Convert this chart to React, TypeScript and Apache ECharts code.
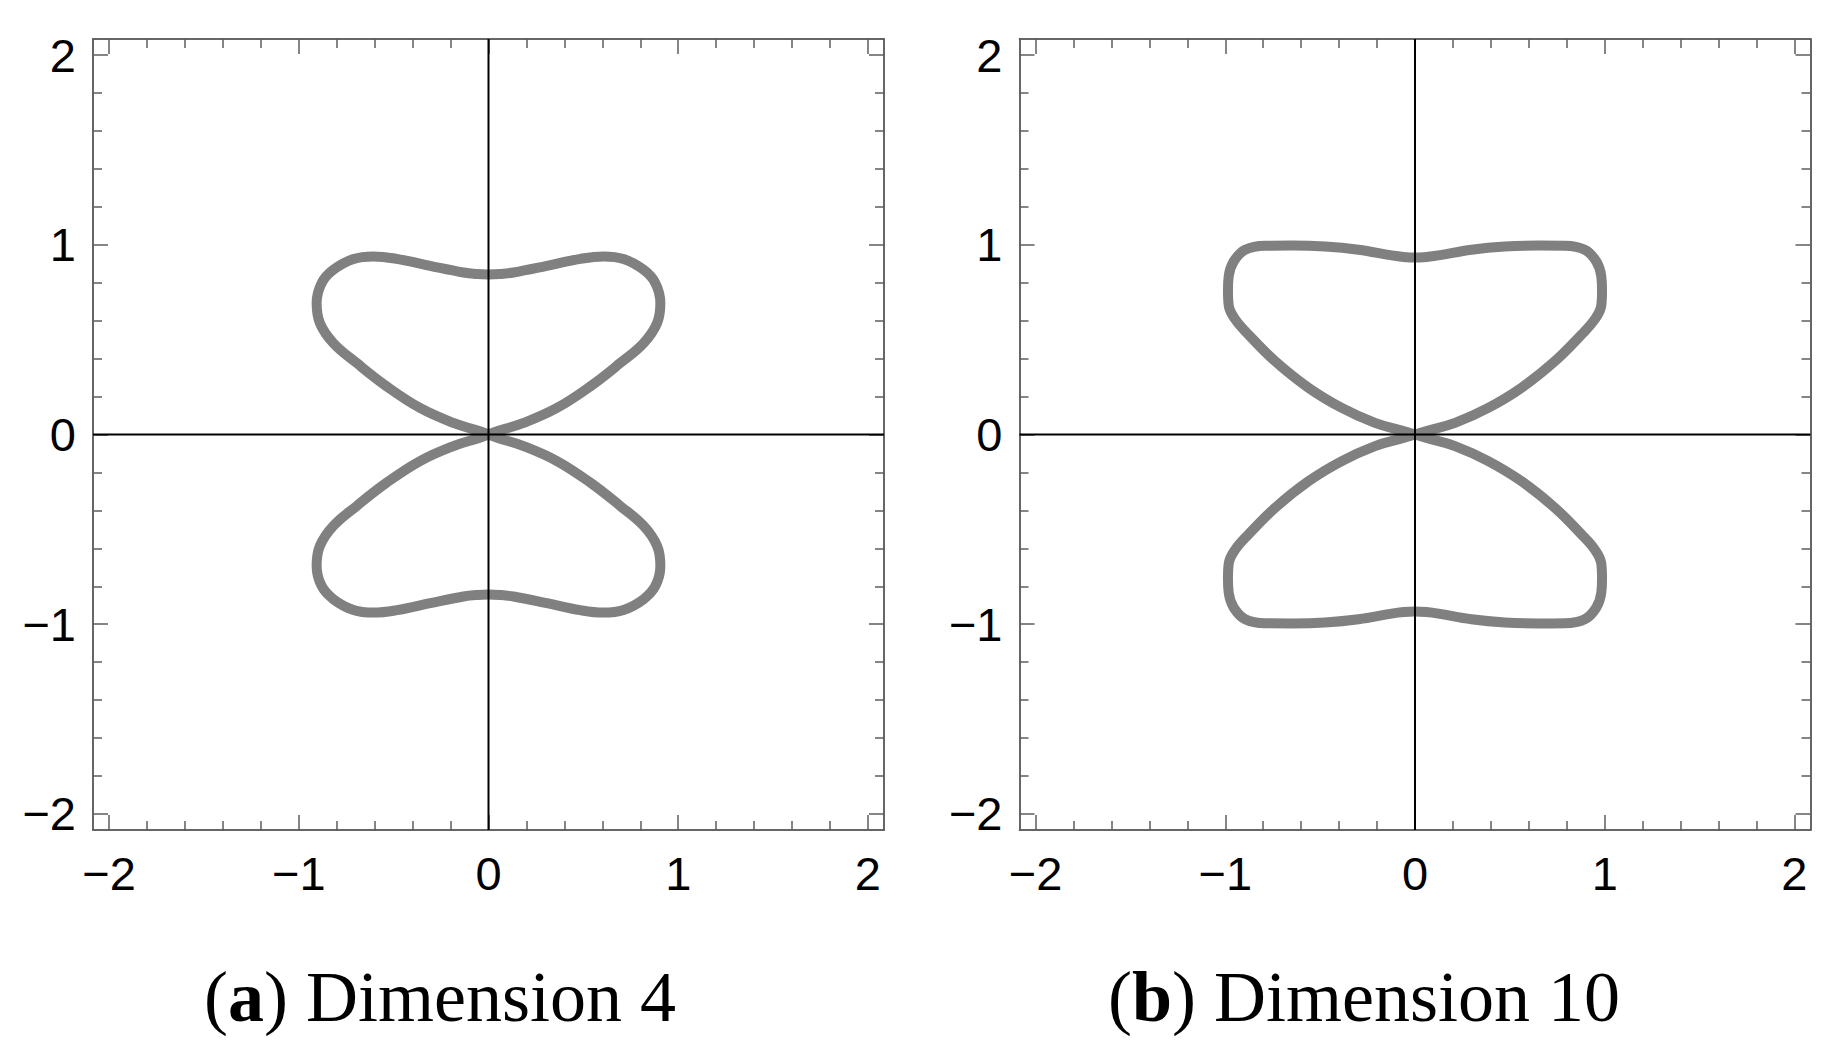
import React, { useEffect, useRef } from "react";
import * as echarts from "echarts";

// Axis range and ticks
const AXIS_MIN = -2.085;
const AXIS_MAX = 2.085;
const MAJOR_TICKS = [-2, -1, 0, 1, 2];
const MAJOR_LABELS = ["−2", "−1", "0", "1", "2"];
const MINOR_TICKS = [-1.8, -1.6, -1.4, -1.2, -0.8, -0.6, -0.4, -0.2, 0.2, 0.4, 0.6, 0.8, 1.2, 1.4, 1.6, 1.8];

const CAPTIONS = [
  { tag: "a", text: ") Dimension 4" },
  { tag: "b", text: ") Dimension 10" },
];

// First-quadrant traces (origin -> outer branch -> top at x = 0)
const DIM4_Q1_X = [0, 0.062, 0.185, 0.361, 0.537, 0.695, 0.818, 0.889, 0.906, 0.880, 0.818, 0.712, 0.607, 0.484, 0.308, 0.132, 0.060, 0];
const DIM4_Q1_Y = [0, 0.022, 0.061, 0.140, 0.254, 0.377, 0.482, 0.588, 0.693, 0.798, 0.868, 0.925, 0.939, 0.926, 0.889, 0.854, 0.846, 0.844];

const DIM10_Q1_X = [0, 0.070, 0.211, 0.386, 0.561, 0.737, 0.877, 0.950, 0.982, 0.986, 0.982, 0.956, 0.895, 0.789, 0.649, 0.474, 0.298, 0.123, 0.060, 0];
const DIM10_Q1_Y = [0, 0.021, 0.061, 0.140, 0.246, 0.386, 0.526, 0.610, 0.680, 0.760, 0.835, 0.912, 0.974, 0.995, 0.996, 0.991, 0.974, 0.944, 0.936, 0.933];

const CURVE_COLOR = "#808080";
const FRAME_COLOR = "#5c5c5c";
const LABEL_FONT = "Liberation Sans";
const CAPTION_FONT = "Liberation Serif";

// Build a lobe from the read quadrant using the figure's mirror symmetry
function lobe(xs: number[], ys: number[], sy: number): number[][] {
  const right = xs.map((x, i) => [x, sy * ys[i]]);
  const left: number[][] = [];
  for (let i = xs.length - 2; i >= 0; i--) left.push([-xs[i], sy * ys[i]]);
  return [...right, ...left];
}

const GRIDS = [
  { left: 93, top: 39, width: 791, height: 791 },
  { left: 1019.5, top: 39, width: 791, height: 791 },
];

function labelFor(v: number) {
  const r = Math.round(v * 1000) / 1000;
  const i = MAJOR_TICKS.indexOf(r);
  return i >= 0 ? MAJOR_LABELS[i] : "";
}

export default function App() {
  const ref = useRef<HTMLDivElement>(null);

  useEffect(() => {
    if (!ref.current) return;
    const chart = echarts.init(ref.current, undefined, { renderer: "svg" });

    const lineStyle = { color: FRAME_COLOR, width: 1.5 };
    const xAxes: any[] = [];
    const yAxes: any[] = [];
    const series: any[] = [];

    GRIDS.forEach((_, g) => {
      const base = {
        gridIndex: g,
        type: "value",
        min: AXIS_MIN,
        max: AXIS_MAX,
        splitLine: { show: false },
        axisLine: { show: true, onZero: false, lineStyle },
      };
      const mk = (pos: string, ticks: number[], len: number, labels: boolean, isX: boolean) => ({
        ...base,
        position: pos,
        axisTick: { show: true, inside: true, length: len, customValues: ticks, lineStyle },
        axisLabel: labels
          ? {
              show: true,
              customValues: MAJOR_TICKS,
              formatter: (v: number) => labelFor(v),
              fontFamily: LABEL_FONT,
              fontSize: 47,
              color: "#000",
              margin: isX ? 20 : 17,
            }
          : { show: false },
      });
      xAxes.push(mk("bottom", MAJOR_TICKS, 15, true, true));
      xAxes.push(mk("bottom", MINOR_TICKS, 9, false, true));
      xAxes.push(mk("top", MAJOR_TICKS, 15, false, true));
      xAxes.push(mk("top", MINOR_TICKS, 9, false, true));
      yAxes.push(mk("left", MAJOR_TICKS, 15, true, false));
      yAxes.push(mk("left", MINOR_TICKS, 9, false, false));
      yAxes.push(mk("right", MAJOR_TICKS, 15, false, false));
      yAxes.push(mk("right", MINOR_TICKS, 9, false, false));

      const xs = g === 0 ? DIM4_Q1_X : DIM10_Q1_X;
      const ys = g === 0 ? DIM4_Q1_Y : DIM10_Q1_Y;
      [1, -1].forEach((sy) => {
        series.push({
          type: "line",
          xAxisIndex: g * 4,
          yAxisIndex: g * 4,
          data: lobe(xs, ys, sy),
          smooth: 0.4,
          showSymbol: false,
          symbol: "none",
          lineStyle: { color: CURVE_COLOR, width: 10, join: "round" },
          z: 2,
          silent: true,
        });
      });
      // coordinate axes through the origin
      series.push({
        type: "line",
        xAxisIndex: g * 4,
        yAxisIndex: g * 4,
        data: [[AXIS_MIN, 0], [AXIS_MAX, 0]],
        showSymbol: false,
        symbol: "none",
        lineStyle: { color: "#000", width: 2 },
        z: 3,
        silent: true,
      });
      series.push({
        type: "line",
        xAxisIndex: g * 4,
        yAxisIndex: g * 4,
        data: [[0, AXIS_MIN], [0, AXIS_MAX]],
        showSymbol: false,
        symbol: "none",
        lineStyle: { color: "#000", width: 2 },
        z: 3,
        silent: true,
      });
    });

    const captionX = [204, 1108];
    const graphic = CAPTIONS.map((c, i) => ({
      type: "text",
      x: captionX[i],
      y: 997,
      style: {
        text: `{p|(}{b|${c.tag}}{p|${c.text}}`,
        align: "left",
        verticalAlign: "middle",
        fill: "#000",
        font: `72px "${CAPTION_FONT}"`,
        rich: {
          p: { fontFamily: CAPTION_FONT, fontSize: 72, fill: "#000", color: "#000" },
          b: { fontFamily: CAPTION_FONT, fontSize: 72, fontWeight: "bold", fill: "#000", color: "#000" },
        },
      },
    }));

    chart.setOption({
      animation: false,
      backgroundColor: "#fff",
      grid: GRIDS.map((g) => ({ ...g, containLabel: false })),
      xAxis: xAxes,
      yAxis: yAxes,
      series,
      graphic,
    });

    return () => chart.dispose();
  }, []);

  return (
    <div
      ref={ref}
      style={{ position: "absolute", left: 0, top: 0, width: 1847, height: 1050, background: "#fff" }}
    />
  );
}
